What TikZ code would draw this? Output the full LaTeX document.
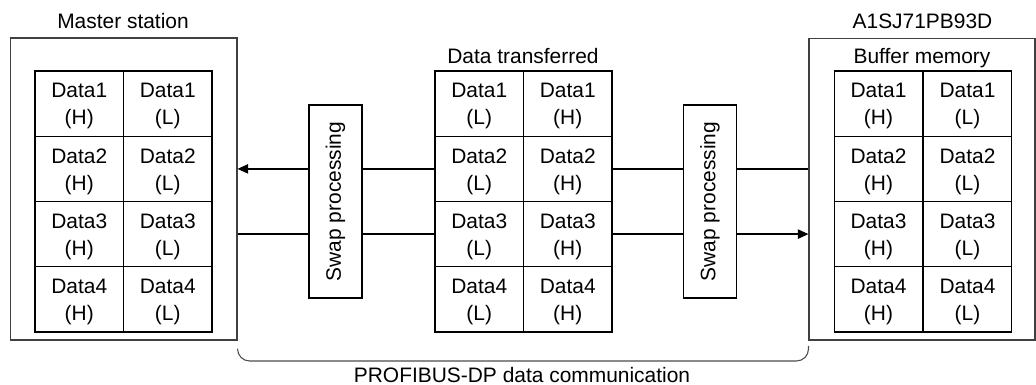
\documentclass[tikz,border=0pt]{standalone}
\usepackage{fontspec}
\setmainfont{Liberation Sans}
\usetikzlibrary{arrows.meta}
\begin{document}
\begin{tikzpicture}[x=0.75pt,y=-0.75pt,
  every node/.style={font=\fontsize{15.7}{20.25}\selectfont, inner sep=0pt},
  cell/.style={draw, line width=1pt, minimum width=66.4pt, minimum height=48.94pt, align=center},
  outer/.style={draw=black!75, line width=0.8pt},
  swapbox/.style={draw, line width=1pt, minimum width=39.75pt, minimum height=144.75pt},
  conn/.style={line width=1.1pt},
  arr/.style={conn, -{Triangle[length=8pt,width=7pt]}},
  lbl/.style={anchor=base}]
\useasboundingbox (0,0) rectangle (1036,385);

% outer boxes
\node[outer, minimum width=169.9pt, minimum height=226.5pt] (mst) at (123.75,189) {};
\node[outer, minimum width=169.5pt, minimum height=226.1pt] (buf) at (922,189.25) {};

% grids
\foreach \r/\y in {1/103.6,2/168.9,3/234.1,4/299.4} {
  \node[cell] (mH\r) at (79.25,\y)  {\rule{0pt}{14.8pt}Data\r\\(H)};
  \node[cell] (mL\r) at (167.75,\y) {\rule{0pt}{14.8pt}Data\r\\(L)};
  \node[cell] (tL\r) at (479.25,\y) {\rule{0pt}{14.8pt}Data\r\\(L)};
  \node[cell] (tH\r) at (567.75,\y) {\rule{0pt}{14.8pt}Data\r\\(H)};
  \node[cell] (bH\r) at (878.5,\y)  {\rule{0pt}{14.8pt}Data\r\\(H)};
  \node[cell] (bL\r) at (967.5,\y)  {\rule{0pt}{14.8pt}Data\r\\(L)};
}

% swap boxes
\node[swapbox] (swL) at (335.5,201.5) {\rotatebox{90}{Swap processing}};
\node[swapbox] (swR) at (710,201.5) {\rotatebox{90}{Swap processing}};

% connectors
\draw[arr]  (swL.west |- tL2) -- (mst.east |- tL2);
\draw[conn] (tL2.west) -- (swL.east |- tL2);
\draw[conn] (mst.east |- tL3) -- (swL.west |- tL3);
\draw[conn] (swL.east |- tL3) -- (tL3.west);
\draw[conn] (tH2.east) -- (swR.west |- tH2);
\draw[conn] (swR.east |- tH2) -- (buf.west |- tH2);
\draw[conn] (tH3.east) -- (swR.west |- tH3);
\draw[arr]  (swR.east |- tH3) -- (buf.west |- tH3);

% brace
\coordinate (bmid) at (522,361);
\draw[black!70, line width=0.8pt, rounded corners=9pt]
  ([yshift=-6pt]mst.south east) |- (bmid) -| ([yshift=-4pt]buf.south west);

% labels
\node[lbl] (mstl) at (123,29) {Master station};
\node[lbl] (bufl) at (922.5,29) {A1SJ71PB93D};
\node[lbl] (trl) at (523,64) {Data transferred};
\node[lbl] (bml) at (922,64) {Buffer memory};
\node[lbl] (prof) at (522,382) {PROFIBUS-DP data communication};
\end{tikzpicture}
\end{document}
